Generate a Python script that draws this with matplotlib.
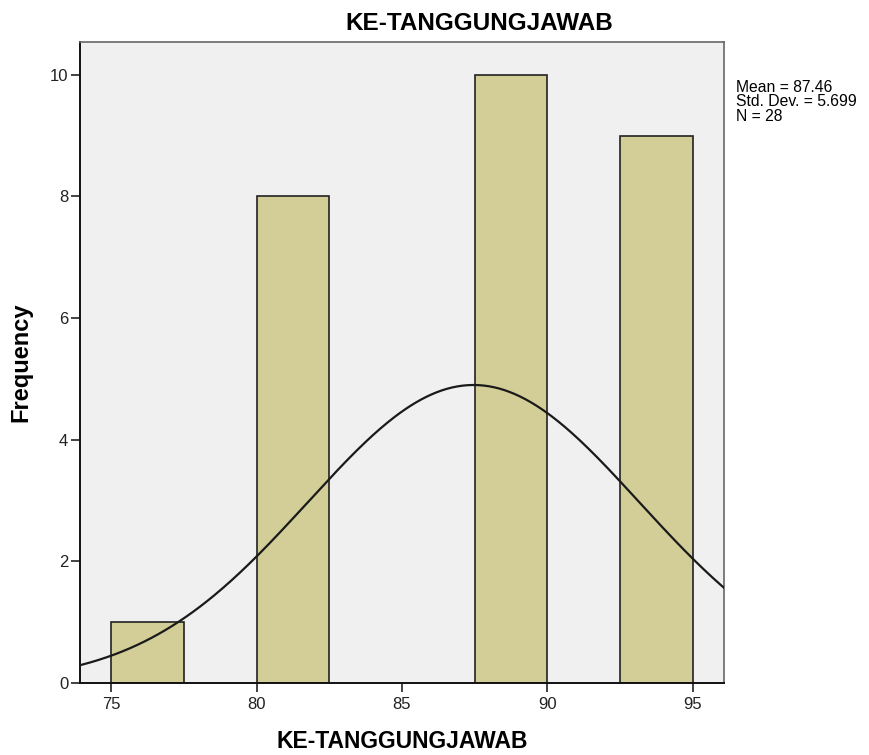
import numpy as np
import matplotlib
matplotlib.use("Agg")
import matplotlib.pyplot as plt

plt.rcParams['font.family'] = ['Liberation Sans', 'DejaVu Sans']

# Histogram bins (left edges), bin width and counts
bin_lefts = [75.0, 80.0, 87.5, 92.5]
bin_width = 2.5
counts = [1, 8, 10, 9]

mean = 87.46
std = 5.699
n = 28

x_ticks = [75, 80, 85, 90, 95]
y_ticks = [0, 2, 4, 6, 8, 10]

W, H = 870, 755
fig = plt.figure(figsize=(W / 100, H / 100), dpi=100)
ax = fig.add_axes([80 / W, 1 - 683 / H, 644 / W, 641 / H])
ax.set_facecolor('#f0f0f0')

ax.bar(bin_lefts, counts, width=bin_width, align='edge',
       color='#d3ce97', edgecolor='#222222', linewidth=1.2, zorder=2)

# Normal curve scaled to counts
xs = np.linspace(73.0, 97.0, 400)
pdf = n * bin_width / (std * np.sqrt(2 * np.pi)) * np.exp(-0.5 * ((xs - mean) / std) ** 2)
ax.plot(xs, pdf, color='#1a1a1a', linewidth=1.6, zorder=3)

ax.set_xlim(73.93, 96.07)
ax.set_ylim(0, 10.54)
ax.set_xticks(x_ticks)
ax.set_yticks(y_ticks)
ax.tick_params(axis='both', direction='out', length=6.5, width=1.2, labelsize=12,
               colors='#222222')
ax.tick_params(axis='x', pad=3.5)
ax.tick_params(axis='y', pad=2)

for side in ('left', 'bottom'):
    ax.spines[side].set_color('#111111')
    ax.spines[side].set_linewidth(1.4)
for side in ('top', 'right'):
    ax.spines[side].set_color('#666666')
    ax.spines[side].set_linewidth(1.2)

fig.text(479 / W, 1 - 23.5 / H, 'KE-TANGGUNGJAWAB', fontsize=17.5, fontweight='bold',
         ha='center', va='center')
fig.text(402 / W, 1 - 741 / H, 'KE-TANGGUNGJAWAB', fontsize=16.5, fontweight='bold',
         ha='center', va='center')
fig.text(21 / W, 1 - 362 / H, 'Frequency', fontsize=17, fontweight='bold',
         ha='center', va='center', rotation=90)

stats_lines = [f'Mean = {mean:.2f}', f'Std. Dev. = {std:.3f}', f'N = {n}']
for i, line in enumerate(stats_lines):
    fig.text(736 / W, 1 - (92 + 14.5 * i) / H, line, fontsize=11.3,
             ha='left', va='baseline')

fig.savefig('out.png', dpi=100, facecolor='white')
